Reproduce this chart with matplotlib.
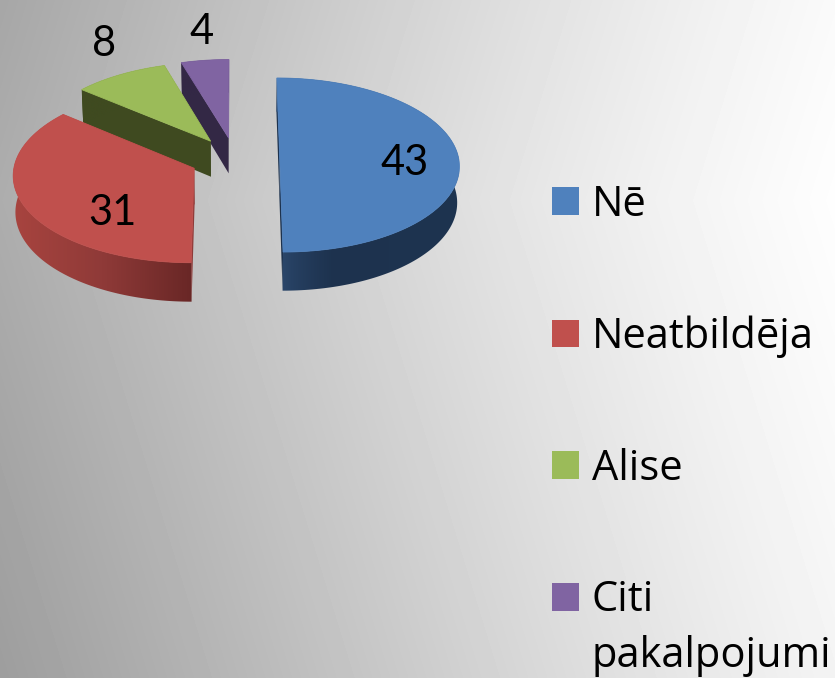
import numpy as np
import matplotlib
matplotlib.use("Agg")
import matplotlib.pyplot as plt
from matplotlib.colors import LinearSegmentedColormap
from matplotlib.patches import Polygon, Patch

categories = ["Nē", "Neatbildēja", "Alise", "Citi\npakalpojumi"]
values = [43, 31, 8, 4]
top_colors = ["#4f81bd", "#c0504d", "#9bbb59", "#8064a2"]
wall_stops = [["#2f4d74", "#1d324e", "#1e3450"],
              ["#a8443f", "#8f3a38", "#692726"],
              ["#3f4a20", "#3f4a20", "#3f4a20"],
              ["#332845", "#332845", "#332845"]]
label_pos = [(405, 163), (112, 213), (104, 44), (202, 32)]

# layout of the projected pie, in pixels
CX, CY, RX, RY, K, EXPL, DEPTH, BOTTOM_SHRINK = 235, 159, 179, 86.6, 0.069, 0.25, 36, 0.99

W, H = 835, 678
fig = plt.figure(figsize=(W / 100, H / 100), dpi=100)
ax = fig.add_axes([0, 0, 1, 1])
ax.set_axis_off()

# background: grey gradient, light at the right edge, darker to the left, top and bottom
yy, xx = np.mgrid[0:H, 0:W]
grad_t = (835 - xx) / 835 + 0.25 * np.abs(yy - 200) / 678
grad_fit = np.polyfit([0.0, 0.1, 0.18, 0.3, 0.5, 0.8, 1.05, 1.2],
                      [0xff, 0xf8, 0xf1, 0xea, 0xdf, 0xbe, 0xa8, 0x9c], 3)
bg = np.clip(np.polyval(grad_fit, grad_t), 0, 255)
ax.imshow(bg, cmap="gray", vmin=0, vmax=255, extent=(0, W, H, 0), aspect="auto", zorder=0)


def project(x, y, bottom=False):
    p = 1 / (1 + K * y)
    px = CX + RX * x * p
    py = CY - RY * y * p
    if bottom:
        px = CX + (px - CX) * BOTTOM_SHRINK
        py = py + DEPTH * p
    return px, py


total = sum(values)
start = 90.0
slices = []
for v in values:
    sweep = 360.0 * v / total
    slices.append((start - sweep, start))
    start -= sweep

for i in [3, 2, 0, 1]:
    a0, a1 = slices[i]
    mid = np.radians((a0 + a1) / 2)
    ox, oy = EXPL * np.cos(mid), EXPL * np.sin(mid)
    th = np.radians(np.linspace(a0, a1, 160))
    rim_x, rim_y = ox + np.cos(th), oy + np.sin(th)
    tx, ty = project(rim_x, rim_y)
    bx, by = project(rim_x, rim_y, bottom=True)
    ax_t, ay_t = project(np.array([ox]), np.array([oy]))
    ax_b, ay_b = project(np.array([ox]), np.array([oy]), bottom=True)

    # cut walls
    for k in (0, -1):
        pts = [(ax_t[0], ay_t[0]), (tx[k], ty[k]), (bx[k], by[k]), (ax_b[0], ay_b[0])]
        ax.add_patch(Polygon(pts, closed=True, fc=wall_stops[i][1], ec="none", zorder=2))

    # rim wall with horizontal gradient
    wall = Polygon(np.c_[np.r_[tx, bx[::-1]], np.r_[ty, by[::-1]]], closed=True,
                   transform=ax.transData, fc="none", ec="none")
    ax.add_patch(wall)
    cmap = LinearSegmentedColormap.from_list("w", wall_stops[i])
    x0, x1 = min(tx.min(), bx.min()), max(tx.max(), bx.max())
    grad = np.linspace(0, 1, 256).reshape(1, -1)
    if i == 0:
        grad = grad ** 0.6
    im = ax.imshow(grad, cmap=cmap, extent=(x0, x1, by.max() + 1, min(ty.min(), by.min()) - 1),
                   aspect="auto", zorder=2)
    im.set_clip_path(wall)

    # top face
    pts = np.c_[np.r_[ax_t, tx], np.r_[ay_t, ty]]
    ax.add_patch(Polygon(pts, closed=True, fc=top_colors[i], ec=top_colors[i], lw=0.6, zorder=2))

for v, (lx, ly) in zip(values, label_pos):
    ax.text(lx, ly, str(v), ha="center", va="center", fontsize=30, family="Lato", color="black", zorder=5)

ax.set_xlim(0, W)
ax.set_ylim(H, 0)

handles = [Patch(fc=c, ec="none") for c in top_colors]
leg = ax.legend(handles, categories, loc="upper left", bbox_to_anchor=(552 / W, 1 - 184 / H),
                frameon=False, prop={"family": "Open Sans", "size": 30},
                handlelength=0.65, handleheight=0.65, handletextpad=0.3,
                labelspacing=2.15, borderpad=0, borderaxespad=0)
for t in leg.get_texts():
    t.set_linespacing(1.43)
# the swatch of the two-line entry sits on its first line
last = leg.legend_handles[-1]
last.set_y(last.get_y() + 23.5)
leg.set_zorder(6)

fig.savefig("out.png", dpi=100)
